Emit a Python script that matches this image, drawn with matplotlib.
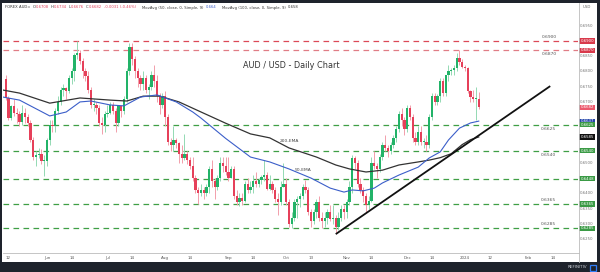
import numpy as np
import pandas as pd
import matplotlib
matplotlib.use("Agg")
import matplotlib.pyplot as plt
from matplotlib import transforms
from matplotlib.lines import Line2D
from matplotlib.patches import Rectangle

# daily AUD/USD bars, 11 May 2023 .. 8 Jan 2024
dates = pd.bdate_range("2023-05-11", "2024-01-08")
opens = [
    .6776, .6712, .6648, .6685, .6665, .6660, .6635, .6665, .6650, .6630, .6575, .6520, .6525, .6530, .6505,
    .6505, .6575, .6625, .6620, .6670, .6700, .6740, .6745, .6735, .6780, .6800, .6855, .6860, .6835, .6800,
    .6785, .6740, .6690, .6690, .6680, .6630, .6625,
    .6660, .6665, .6690, .6670, .6630, .6685, .6670, .6710, .6800, .6880, .6840, .6800, .6780, .6760, .6780,
    .6740, .6750, .6790, .6770, .6720, .6690,
    .6720, .6650, .6570, .6560, .6575, .6565, .6530, .6515, .6530, .6510, .6490, .6450, .6410, .6400, .6410,
    .6400, .6420, .6480, .6440, .6420, .6450, .6500, .6490,
    .6470, .6450, .6480, .6390, .6370, .6385, .6375, .6430, .6410, .6420, .6440, .6430, .6445, .6455, .6460,
    .6415, .6430, .6410, .6380, .6370, .6420,
    .6430, .6370, .6300, .6320, .6370, .6380, .6390, .6420, .6410, .6340, .6310, .6340, .6370, .6320, .6310,
    .6320, .6340, .6315, .6320, .6290, .6320, .6350,
    .6340, .6370, .6420, .6515, .6500, .6430, .6410, .6390, .6360, .6375, .6500, .6490, .6480, .6520, .6560,
    .6550, .6540, .6560, .6580, .6610, .6660, .6640,
    .6610, .6680, .6650, .6580, .6570, .6600, .6570, .6570, .6560, .6650, .6720, .6700, .6720, .6770, .6730,
    .6790, .6800, .6805, .6810, .6845, .6830,
    .6815, .6810, .6735, .6715, .6710, .6708,
]
highs = [
    .6790, .6718, .6690, .6710, .6680, .6670, .6690, .6680, .6660, .6640, .6585, .6540, .6550, .6545, .6525,
    .6580, .6640, .6640, .6680, .6720, .6750, .6760, .6750, .6790, .6810, .6860, .6899, .6870, .6845, .6810,
    .6800, .6750, .6710, .6700, .6690, .6650, .6670,
    .6690, .6700, .6700, .6680, .6690, .6690, .6720, .6810, .6895, .6895, .6850, .6810, .6790, .6800, .6790,
    .6760, .6800, .6820, .6790, .6730, .6730,
    .6735, .6660, .6580, .6620, .6580, .6570, .6560, .6595, .6540, .6520, .6520, .6460, .6420, .6430, .6420,
    .6430, .6490, .6510, .6450, .6460, .6520, .6520, .6520,
    .6520, .6490, .6490, .6410, .6400, .6400, .6440, .6450, .6440, .6460, .6470, .6450, .6460, .6510, .6470,
    .6460, .6440, .6420, .6400, .6440, .6500,
    .6450, .6380, .6340, .6380, .6390, .6400, .6430, .6445, .6420, .6350, .6350, .6380, .6390, .6340, .6340,
    .6350, .6360, .6360, .6330, .6340, .6360, .6360,
    .6380, .6440, .6525, .6522, .6510, .6450, .6420, .6400, .6390, .6520, .6540, .6500, .6530, .6570, .6590,
    .6560, .6570, .6590, .6620, .6670, .6680, .6650,
    .6690, .6690, .6660, .6600, .6620, .6620, .6580, .6590, .6660, .6730, .6730, .6725, .6780, .6780, .6790,
    .6820, .6810, .6820, .6860, .6871, .6840,
    .6820, .6815, .6740, .6740, .6750, .6734,
]
lows = [
    .6706, .6640, .6640, .6655, .6630, .6620, .6625, .6630, .6620, .6570, .6510, .6490, .6515, .6495, .6458,
    .6490, .6560, .6600, .6600, .6660, .6690, .6720, .6710, .6730, .6760, .6770, .6840, .6825, .6780, .6770,
    .6730, .6680, .6670, .6660, .6620, .6595, .6600,
    .6650, .6660, .6660, .6600, .6620, .6650, .6660, .6700, .6790, .6820, .6780, .6750, .6740, .6740, .6730,
    .6710, .6740, .6750, .6700, .6660, .6680,
    .6620, .6560, .6540, .6540, .6550, .6500, .6500, .6510, .6495, .6480, .6440, .6400, .6365, .6390, .6380,
    .6390, .6400, .6420, .6380, .6410, .6440, .6470, .6460,
    .6440, .6450, .6380, .6360, .6357, .6360, .6370, .6400, .6400, .6400, .6420, .6420, .6430, .6440, .6410,
    .6410, .6400, .6370, .6330, .6360, .6420,
    .6360, .6288, .6285, .6310, .6320, .6355, .6380, .6400, .6330, .6290, .6300, .6320, .6310, .6285, .6290,
    .6300, .6310, .6300, .6270, .6280, .6310, .6315,
    .6320, .6360, .6400, .6480, .6420, .6400, .6370, .6340, .6350, .6370, .6480, .6450, .6470, .6510, .6540,
    .6520, .6530, .6550, .6570, .6600, .6620, .6590,
    .6600, .6640, .6570, .6560, .6560, .6560, .6550, .6540, .6550, .6640, .6690, .6690, .6700, .6720, .6720,
    .6770, .6790, .6790, .6800, .6820, .6810,
    .6800, .6730, .6700, .6700, .6640, .6676,
]
closes = [
    .6712, .6648, .6685, .6665, .6660, .6635, .6665, .6650, .6630, .6575, .6520, .6525, .6530, .6505, .6505,
    .6575, .6625, .6620, .6670, .6700, .6740, .6745, .6735, .6780, .6800, .6855, .6860, .6835, .6800, .6785,
    .6740, .6690, .6690, .6680, .6630, .6625, .6660,
    .6665, .6690, .6670, .6630, .6685, .6670, .6710, .6800, .6880, .6840, .6800, .6780, .6760, .6780, .6740,
    .6750, .6790, .6770, .6720, .6690, .6720,
    .6650, .6570, .6560, .6575, .6565, .6530, .6515, .6530, .6510, .6490, .6450, .6410, .6400, .6410, .6400,
    .6420, .6480, .6440, .6420, .6450, .6500, .6490, .6470,
    .6450, .6480, .6390, .6370, .6385, .6375, .6430, .6410, .6420, .6440, .6430, .6445, .6455, .6460, .6415,
    .6430, .6410, .6380, .6370, .6420, .6430,
    .6370, .6300, .6320, .6370, .6380, .6390, .6420, .6410, .6340, .6310, .6340, .6370, .6320, .6310, .6320,
    .6340, .6315, .6320, .6290, .6320, .6350, .6340,
    .6370, .6420, .6515, .6500, .6430, .6410, .6390, .6360, .6375, .6500, .6490, .6480, .6520, .6560, .6550,
    .6540, .6560, .6580, .6610, .6660, .6640, .6610,
    .6680, .6650, .6580, .6570, .6600, .6570, .6570, .6560, .6650, .6720, .6700, .6720, .6770, .6730, .6790,
    .6800, .6805, .6810, .6845, .6830, .6815,
    .6810, .6735, .6715, .6710, .6713, .6682,
]

# moving averages (bar index, price)
ma50_x = [-1, 5, 16, 22, 27, 31, 38, 43, 49, 55, 62, 68, 71, 80, 89, 96, 103, 111, 118, 123, 126, 130,
          134, 137, 143, 150, 154, 158, 161, 165, 169, 172]
ma50_y = [.6716, .6706, .6654, .6667, .6700, .6703, .6690, .6687, .6716, .6723, .6700, .6667, .6647, .6580,
          .6519, .6503, .6480, .6450, .6417, .6404, .6411, .6408, .6417, .6434, .6460, .6486, .6516, .6536,
          .6575, .6614, .6631, .6637]
ma200_x = [-1, 5, 16, 27, 38, 44, 50, 56, 63, 71, 80, 89, 96, 103, 113, 120, 125, 131, 137, 143, 150, 154,
           158, 162, 166, 169, 172]
ma200_y = [.6739, .6729, .6696, .6713, .6706, .6703, .6719, .6719, .6700, .6667, .6630, .6595, .6582, .6549,
           .6519, .6493, .6480, .6470, .6476, .6493, .6503, .6509, .6517, .6530, .6560, .6576, .6585]
trend_x = [120, 198]
trend_y = [0.6266, 0.6752]

red_levels = [0.6900, 0.6870]
green_levels = [0.6625, 0.6540, 0.6448, 0.6365, 0.6285]
level_text = ["0.6900", "0.6870", "0.6625", "0.6540", "0.6365", "0.6285"]
level_text_val = [0.6900, 0.6870, 0.6625, 0.6540, 0.6365, 0.6285]
level_text_above = [True, False, False, False, True, True]

# scale labels not hidden behind the coloured price boxes
price_ticks = [0.6250, 0.6300, 0.6350, 0.6400, 0.6500, 0.6700, 0.6750, 0.6800, 0.6850, 0.6950]
box_vals = [0.6900, 0.6870, 0.6682, 0.6637, 0.6625, 0.6585, 0.6540, 0.6448, 0.6365, 0.6285]
box_text = ["0.6900", "0.6870", "0.6682", "0.6637", "0.6625", "0.6585", "0.6540", "0.6448", "0.6365", "0.6285"]
box_colors = ["#d8394b", "#d8394b", "#ec5a6d", "#2244aa", "#3a9a45", "#111111",
              "#3a9a45", "#3a9a45", "#3a9a45", "#3a9a45"]

date_ticks = ["2023-05-12", "2023-06-01", "2023-06-14", "2023-07-03", "2023-07-14", "2023-08-01",
              "2023-08-14", "2023-09-01", "2023-09-14", "2023-10-02", "2023-10-13", "2023-11-01",
              "2023-11-14", "2023-12-01", "2023-12-14", "2024-01-01", "2024-01-12", "2024-02-01",
              "2024-02-14"]
date_labels = ["12", "Jun", "14", "Jul", "14", "Aug", "14", "Sep", "14", "Oct", "13", "Nov", "14",
               "Dec", "14", "2024", "12", "Feb", "14"]

header = [("FOREX AUD=", "#333333"), ("O", "#333333"), ("0.6708", "#e0405a"),
          ("H", "#333333"), ("0.6734", "#e0405a"), ("L", "#333333"), ("0.6676", "#e0405a"),
          ("C", "#333333"), ("0.6682", "#e0405a"), ("-0.0031 (-0.46%)", "#e0405a"),
          ("MovAvg (50, close, 0, Simple, 9)", "#333333"), ("0.664", "#3b5ec9"),
          ("MovAvg (100, close, 0, Simple, 9)", "#333333"), ("0.658", "#333333")]
header_gap = [2.5, 0.3, 1.5, 0.3, 1.5, 0.3, 1.5, 0.3, 2.5, 6, 2.5, 5, 2.5, 0]

W, H = 600, 272


def fx(px):
    return px / W


def fy(py):
    return 1 - py / H


fig = plt.figure(figsize=(6, 2.72), dpi=100)
fig.patch.set_facecolor("#1e232c")
fig.add_artist(Rectangle((fx(2), fy(262)), 595 / W, 259 / H, transform=fig.transFigure,
                         facecolor="white", edgecolor="none", zorder=-1))

ax = fig.add_axes([fx(3), fy(252), 575 / W, 249 / H])
ax.set_facecolor("none")
for s in ax.spines.values():
    s.set_visible(False)
ax.set_xticks([])
ax.set_yticks([])
ax.set_xlim(-1.0, 208.1)
ax.set_ylim(0.62073, 0.70248)

# candles
x = np.arange(len(dates))
o = np.array(opens)
c = np.array(closes)
up = c >= o
body_col = np.where(up, "#22b368", "#e6405a")
wick_col = np.where(up, "#93d9b3", "#f29fab")
ax.vlines(x, lows, highs, colors=wick_col, linewidth=0.7, zorder=2)
bottoms = np.minimum(o, c)
heights = np.maximum(np.abs(c - o), 0.0003)
ax.bar(x, heights, bottom=bottoms, width=0.8, color=body_col, linewidth=0, zorder=3)

# levels
for v in red_levels:
    ax.axhline(v, color="#dc4a58" if v == 0.6900 else "#e07c85", lw=0.9, ls=(0, (4.5, 3.5)), zorder=1)
for v in green_levels:
    ax.axhline(v, color="#3f9f45", lw=0.9, ls=(0, (4.5, 3.5)), zorder=1)
for t, v, above in zip(level_text, level_text_val, level_text_above):
    ax.text(197.5, v + (0.0013 if above else -0.0013), t, fontsize=3.2, color="#555555",
            ha="center", va="center", zorder=5)

# moving averages and trend line
ax.plot(ma200_x, ma200_y, color="#333333", lw=0.9, zorder=4)
ax.plot(ma50_x, ma50_y, color="#3b5ec9", lw=0.8, zorder=4)
ax.plot(trend_x, trend_y, color="#111111", lw=1.3, zorder=4, solid_capstyle="butt")
ax.text(103, 0.6572, "200-EMA", fontsize=3.2, color="#444444", ha="center", va="center")
ax.text(108, 0.6476, "50-EMA", fontsize=3.2, color="#444444", ha="center", va="center")

# right price scale
ty = transforms.blended_transform_factory(ax.transAxes, ax.transData)
for v in price_ticks:
    ax.text((587 - 3) / 575, v, f"{v:.4f}", transform=ty, fontsize=2.8, color="#777777",
            ha="center", va="center", clip_on=False)
bh = 5.2 / 3046
for v, t, col in zip(box_vals, box_text, box_colors):
    ax.add_patch(Rectangle(((579.5 - 3) / 575, v - bh / 2), 16 / 575, bh, transform=ty,
                           facecolor=col, edgecolor="none", clip_on=False, zorder=6))
    ax.text((587.5 - 3) / 575, v, t, transform=ty, fontsize=2.8, color="white",
            ha="center", va="center", clip_on=False, zorder=7)

# date scale
all_days = pd.bdate_range("2023-05-11", "2024-02-29")
tx = transforms.blended_transform_factory(ax.transData, ax.transAxes)
for d, lab in zip(date_ticks, date_labels):
    ax.text(all_days.get_loc(pd.Timestamp(d)), -(258 - 252) / 249, lab, transform=tx, fontsize=2.9,
            color="#555555", ha="center", va="center", clip_on=False)

fig.add_artist(Line2D([fx(3), fx(578.5)], [fy(252.5), fy(252.5)], color="#bbbbbb", lw=0.6))
fig.add_artist(Line2D([fx(578.5), fx(578.5)], [fy(3), fy(262)], color="#bbbbbb", lw=0.6))

# header, laid out piece by piece
renderer = fig.canvas.get_renderer()
px = 5.0
for (t, col), gap in zip(header, header_gap):
    txt = fig.text(fx(px), fy(7.5), t, fontsize=2.7, color=col, ha="left", va="center")
    px += txt.get_window_extent(renderer).width + gap
fig.text(fx(587), fy(7.5), "USD", fontsize=2.8, color="#666666", ha="center", va="center")

fig.text(fx(291.5), fy(66), "AUD / USD - Daily Chart", fontsize=5.9, color="#333333",
         ha="center", va="center", fontweight="medium")

fig.text(fx(587), fy(267.5), "REFINITIV", fontsize=3, color="#c8ccd4", ha="right", va="center")
fig.add_artist(Rectangle((fx(590), fy(270.5)), 6 / W, 6 / H, transform=fig.transFigure,
                         facecolor="none", edgecolor="#2f7df6", lw=0.9))

fig.savefig("out.png", dpi=100, facecolor=fig.get_facecolor())
